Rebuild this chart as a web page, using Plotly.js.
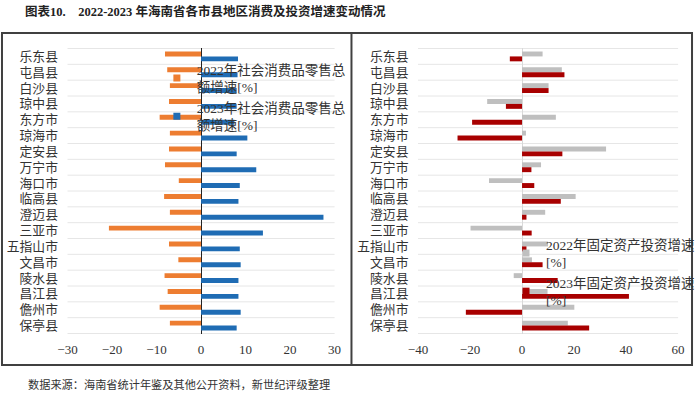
<!DOCTYPE html>
<html>
<head>
<meta charset="utf-8">
<script src="https://cdn.plot.ly/plotly-3.0.1.min.js"></script>
<style>html,body{margin:0;padding:0;background:#fff;}#chart{width:700px;height:394px;}</style>
</head>
<body>
<div id="chart"></div>
<script>
const regions = ["乐东县","屯昌县","白沙县","琼中县","东方市","琼海市","定安县","万宁市","海口市","临高县","澄迈县","三亚市","五指山市","文昌市","陵水县","昌江县","儋州市","保亭县"];
const retail2022 = [-8.1,-7.6,-7.0,-7.2,-9.3,-7.0,-7.2,-8.1,-5.0,-8.3,-7.0,-20.7,-7.2,-5.1,-8.2,-7.5,-9.3,-7.0];
const retail2023 = [8.3,8.2,8.0,8.0,7.5,10.4,8.0,12.4,8.7,8.4,27.5,13.9,8.7,8.9,8.4,8.4,8.9,8.0];
const invest2022 = [7.9,15.3,10.2,-13.4,13.0,1.5,32.3,7.3,-12.7,20.6,8.9,-19.8,10.0,3.8,-3.2,9.8,20.1,17.6];
const invest2023 = [-4.7,16.3,10.2,-6.2,-19.2,-24.8,15.5,3.6,4.7,14.9,1.7,3.7,1.7,7.9,13.7,41.1,-21.6,25.8];
const leftTicks = [-30,-20,-10,0,10,20,30];
const rightTicks = [-40,-20,0,20,40,60];
const names = ["2022年社会消费品零售总<br>额增速[%]","2023年社会消费品零售总<br>额增速[%]","2022年固定资产投资增速<br>[%]","2023年固定资产投资增速<br>[%]"];
const colors = ['#ED7D31','#1F6CB4','#BFBFBF','#A80000'];
const titleText = "图表10.    2022-2023 年海南省各市县地区消费及投资增速变动情况";
const sourceText = "数据来源：海南省统计年鉴及其他公开资料，新世纪评级整理";

const FONT = "Liberation Serif, Noto Sans CJK SC, serif";
const W = 700, H = 394;
const px = x => x / W, py = y => 1 - y / H;

const series = [retail2022, retail2023, invest2022, invest2023];
const traces = [];
series.forEach((vals, k) => {
  const left = k < 2;
  traces.push({type:'bar', orientation:'h', y:regions, x:vals, name:names[k], marker:{color:colors[k]},
    xaxis: left ? 'x' : 'x2', yaxis: left ? 'y' : 'y2', showlegend:false});
});
series.forEach((vals, k) => {
  const left = k < 2;
  traces.push({type:'scatter', mode:'markers', x:[null], y:[null], name:names[k],
    marker:{color:colors[k], symbol:'square', size:7},
    xaxis: left ? 'x' : 'x2', yaxis: left ? 'y' : 'y2', legend: left ? 'legend' : 'legend2', hoverinfo:'skip'});
});

const shapes = [];
for (let i = 0; i <= regions.length; i++) {
  shapes.push({type:'line', xref:'x domain', yref:'y', x0:0, x1:1, y0:i-0.5, y1:i-0.5, line:{color:'#E6E6E6', width:1}, layer:'below'});
  shapes.push({type:'line', xref:'x2 domain', yref:'y2', x0:0, x1:1, y0:i-0.5, y1:i-0.5, line:{color:'#E6E6E6', width:1}, layer:'below'});
}
shapes.push({type:'rect', xref:'paper', yref:'paper', x0:px(2), x1:px(697), y0:py(365), y1:py(33), line:{color:'#404040', width:2}});
shapes.push({type:'line', xref:'paper', yref:'paper', x0:px(354), x1:px(354), y0:py(365), y1:py(33), line:{color:'#404040', width:2}});

const yDomain = [py(334), py(48)];
const yax = {type:'category', autorange:'reversed', domain:yDomain, showgrid:false, zeroline:false, showline:false,
  tickmode:'array', tickvals:regions, ticktext:regions,
  ticks:'outside', ticklen:6, tickcolor:'rgba(0,0,0,0)', tickfont:{family:FONT, size:12.8, color:'#333'}};

const xtick = {showgrid:false, zeroline:true, zerolinewidth:1, showline:false, ticks:'outside', ticklen:3,
  tickcolor:'rgba(0,0,0,0)', tickfont:{family:FONT, size:13, color:'#333'}};

const layout = {
  width:W, height:H, margin:{l:0,r:0,t:0,b:0}, paper_bgcolor:'#fff', plot_bgcolor:'rgba(0,0,0,0)',
  barmode:'group', bargap:0.38, bargroupgap:0,
  font:{family:FONT, size:13, color:'#333'},
  xaxis:Object.assign({}, xtick, {domain:[px(68), px(337)], range:[-30,30], tickvals:leftTicks, zerolinecolor:'#222', anchor:'y'}),
  yaxis:Object.assign({}, yax, {anchor:'x'}),
  xaxis2:Object.assign({}, xtick, {domain:[px(421), px(683)], range:[-40,60], tickvals:rightTicks, zerolinecolor:'#D9D9D9', anchor:'y2'}),
  yaxis2:Object.assign({}, yax, {anchor:'x2'}),
  legend:{x:px(158), y:py(54), xanchor:'left', yanchor:'top', bgcolor:'rgba(0,0,0,0)', font:{family:FONT, size:13.5, color:'#333'}, itemwidth:30, tracegroupgap:0, traceorder:'normal'},
  legend2:{x:px(510), y:py(229), xanchor:'left', yanchor:'top', bgcolor:'rgba(0,0,0,0)', font:{family:FONT, size:13.5, color:'#333'}, itemwidth:30, tracegroupgap:0, traceorder:'normal'},
  shapes:shapes,
  annotations:[
    {xref:'paper', yref:'paper', x:px(23), y:py(11), xanchor:'left', yanchor:'middle', showarrow:false, text:'<b>'+titleText+'</b>', font:{family:FONT, size:12.5, color:'#222'}},
    {xref:'paper', yref:'paper', x:px(26), y:py(384), xanchor:'left', yanchor:'middle', showarrow:false, text:sourceText, font:{family:FONT, size:11.2, color:'#333'}}
  ],
  showlegend:true
};

Plotly.newPlot('chart', traces, layout, {staticPlot:true, displayModeBar:false});
</script>
</body>
</html>
